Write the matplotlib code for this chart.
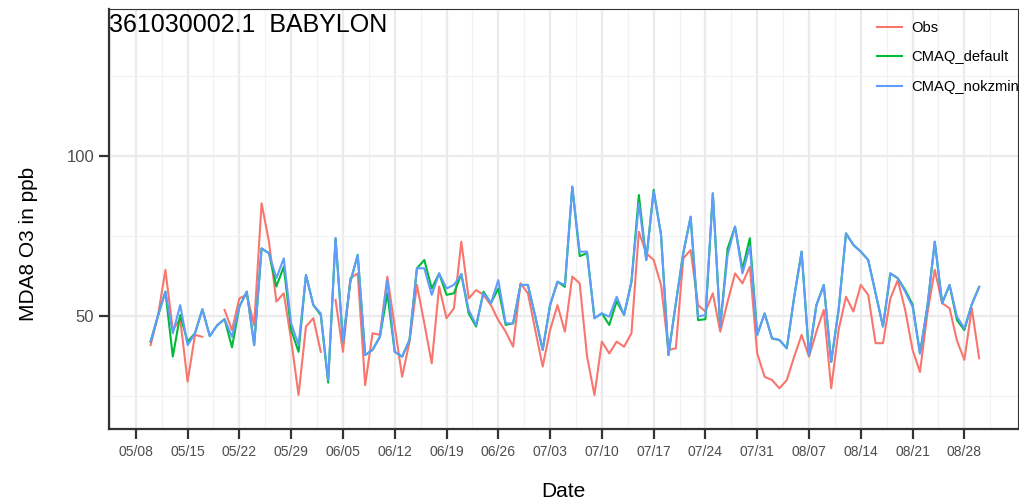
import numpy as np
import pandas as pd
import matplotlib
matplotlib.use("Agg")
import matplotlib.pyplot as plt
import matplotlib.dates as mdates

plt.rcParams['font.family'] = ['Liberation Sans', 'DejaVu Sans']

# daily MDA8 O3 (ppb), 05/10 .. 08/30; NaN = missing obs
dates = pd.date_range('2018-05-10', '2018-08-30', freq='D')

obs = [40.8, 50, 64.3, 45.5, 49, 29.4, 44, 43.4, np.nan, np.nan,
       51.8, 45.5, 55.4, 56.5, 47, 85.1, 73.1, 54.4, 57, 42.4,
       25.2, 46.6, 49.2, 38.7, np.nan, 54.9, 38.7, 61.7, 63.2, 28.3,
       44.5, 44, 62.2, 46.6, 30.9, 41.9, 59.6, 47.6, 35.1, 59.1,
       49.2, 52.3, 73.1, 55.4, 58, 56.5, 53.3, 48.6, 45, 40.3,
       60.1, 57, 45.5, 34.1, 45.5, 53.3, 45, 62.2, 60.1, 37.2,
       25.2, 41.9, 38.2, 41.9, 40.3, 44.5, 76.2, 69.5, 67.4, 59.6,
       39.3, 39.8, 67.9, 70.5, 53.3, 51.3, 57, 45, 54.4, 63.2,
       60.1, 65.3, 38.2, 30.9, 29.9, 27.3, 29.9, 37.2, 44, 37.2,
       45, 51.8, 27.3, 45.5, 55.9, 51.3, 59.6, 56.5, 41.4, 41.4,
       55.4, 61.1, 51.8, 39.3, 32.4, 50.7, 64.3, 53.9, 52.3, 42.2,
       36.2, 52.3, 36.7]

cmaq_default = [41.9, 50, 57.5, 37.2, 50.2, 41.9, 44.5, 52, 43.6, 47,
                48.9, 40.1, 52.8, 57.5, 40.8, 71, 69.5, 59.1, 65.3, 45.5,
                38.7, 62.7, 53.3, 50.2, 29.1, 74.2, 41.9, 60.6, 69, 37.7,
                39.3, 43.4, 57, 38.7, 37.2, 42.4, 64.8, 67.4, 58.5, 63.2,
                56.5, 57, 63, 50.7, 46.6, 57.5, 53.9, 58.5, 47.1, 47.6,
                59.6, 59.6, 49.7, 39.3, 53.3, 60.6, 59, 90.3, 68.6, 69.5,
                49.2, 50.7, 47.1, 54.5, 50.2, 60.6, 87.7, 67.4, 89.3, 75.2,
                37.7, 53.9, 69.5, 80.9, 48.6, 48.9, 88.2, 46.6, 71, 77.8,
                64.5, 74.2, 44, 50.7, 42.9, 42.4, 39.8, 55.9, 70, 37.7,
                53.3, 59.6, 35.6, 51.8, 75.7, 72.1, 70, 67.4, 57, 46.6,
                63.2, 61.7, 58, 53.5, 38.2, 52.8, 73.1, 53.9, 59.6, 48.6,
                45.5, 53.5, 59]

cmaq_nokzmin = [41.9, 50, 57.5, 44.5, 53.3, 40.8, 44.5, 52, 43.6, 47,
                48.9, 43.4, 52.8, 57.5, 40.8, 71, 69.5, 61.7, 67.9, 47.6,
                40.8, 62.7, 53.3, 50.7, 29.9, 74.2, 41.9, 60.6, 69, 37.7,
                39.3, 43.4, 61.1, 38.7, 37.2, 42.4, 64.8, 64.8, 56.5, 63.2,
                58.5, 59.6, 63, 51.8, 47.1, 57, 53.9, 61.1, 47.6, 47.6,
                59.6, 59.6, 49.7, 39.3, 53.3, 60.6, 59.6, 90.3, 70, 70,
                49.2, 50.7, 49.7, 55.9, 50.2, 60.6, 85.1, 67.4, 88.8, 75.2,
                37.7, 53.9, 69.5, 80.9, 49.7, 50.2, 88.2, 46.6, 69, 77.8,
                63.2, 71.6, 44, 50.7, 42.9, 42.4, 39.8, 55.9, 70, 37.7,
                53.3, 59.6, 35.6, 51.8, 75.7, 72.1, 70, 67.4, 57, 46.6,
                63.2, 61.7, 57.5, 52.8, 38.2, 52.8, 73.1, 53.9, 59.6, 49.7,
                46, 53.5, 59]

series_names = ['Obs', 'CMAQ_default', 'CMAQ_nokzmin']
series_colors = ['#F8766D', '#00BA38', '#619CFF']

fig = plt.figure(figsize=(10.19, 5.01), dpi=100)
ax = fig.add_axes([109.3 / 1019, 1 - 429.3 / 501, (1018.3 - 109.3) / 1019, (429.3 - 9) / 501])

for vals, name, col in zip([obs, cmaq_default, cmaq_nokzmin], series_names, series_colors):
    ax.plot(dates, vals, color=col, lw=1.5, label=name)

# axes limits / ticks
ax.set_xlim(pd.Timestamp('2018-05-04 10:00'), pd.Timestamp('2018-09-04 07:00'))
ax.set_ylim(14.5, 145.8)
major_x = pd.date_range('2018-05-08', '2018-08-28', freq='7D')
minor_x = pd.date_range('2018-05-04 12:00', '2018-09-01', freq='7D')
ax.set_xticks(major_x)
ax.set_xticks(minor_x, minor=True)
ax.xaxis.set_major_formatter(mdates.DateFormatter('%m/%d'))
ax.set_yticks([50, 100])
ax.set_yticks([25, 75, 125], minor=True)

ax.grid(True, which='major', color='#EBEBEB', lw=1.6)
ax.grid(True, which='minor', color='#F2F2F2', lw=0.9)
ax.set_axisbelow(True)

ax.tick_params(axis='x', which='major', labelsize=10, colors='#333333', labelcolor='#4D4D4D', length=7, width=1.6, pad=4)
ax.tick_params(axis='y', which='major', labelsize=12, colors='#333333', labelcolor='#4D4D4D', length=7, width=1.6, pad=4)
ax.tick_params(which='minor', length=0)

for side in ['left', 'bottom']:
    ax.spines[side].set_color('#333333')
    ax.spines[side].set_linewidth(1.6)
for side in ['top', 'right']:
    ax.spines[side].set_color('#333333')
    ax.spines[side].set_linewidth(0.8)

ax.set_xlabel('Date', fontsize=15, labelpad=17)
ax.set_ylabel('MDA8 O3 in ppb', fontsize=15)
ax.yaxis.set_label_coords(-0.078, 0.44)

fig.text(109.3 / 1019, 1 - 13 / 501, '361030002.1  BABYLON', fontsize=18, va='top', ha='left')

fig.legend(loc='upper left', bbox_to_anchor=(877 / 1019, 1 - 21 / 501), frameon=False,
           fontsize=10.6, handlelength=1.7, handletextpad=0.65, labelspacing=1.05,
           borderpad=0, borderaxespad=0)

fig.savefig('out.png', dpi=100)
